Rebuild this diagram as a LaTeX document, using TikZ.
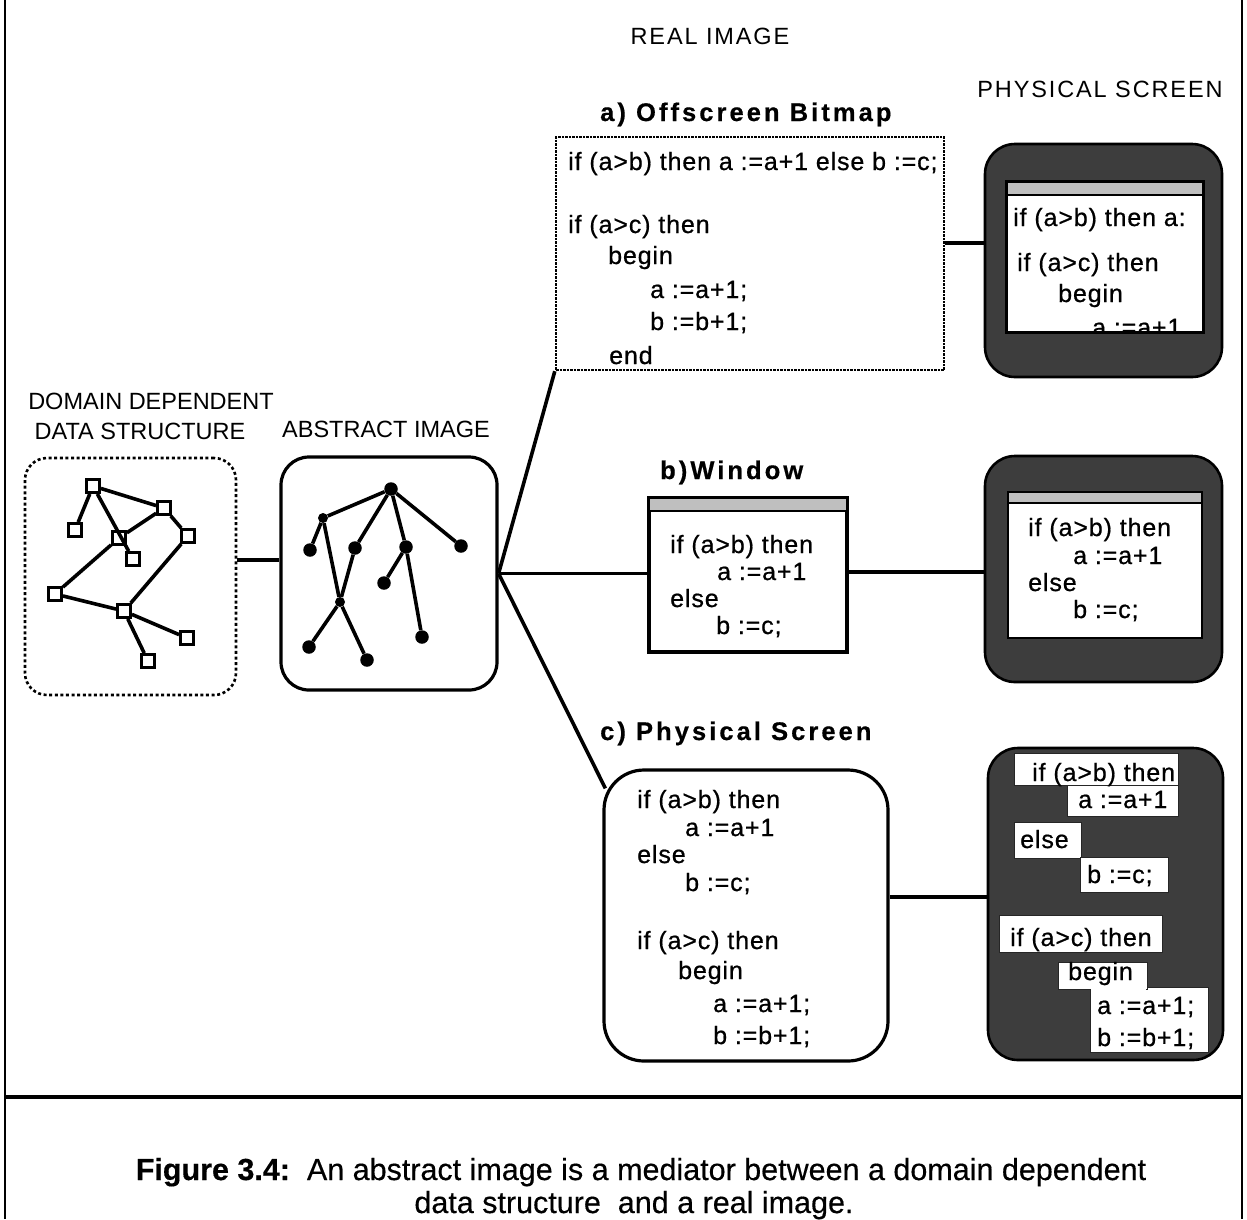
\documentclass[tikz,border=0pt]{standalone}
\usepackage{fontspec}
\setmainfont{Liberation Sans}
\newfontfamily\codef[LetterSpace=3.5,FakeBold=0.7]{Liberation Sans}
\newfontfamily\headf[LetterSpace=12,FakeBold=0.5]{Liberation Sans}
\newfontfamily\wlabf[LetterSpace=8]{Liberation Sans}
\newfontfamily\capf[FakeBold=0.4]{Liberation Sans}
\begin{document}
\begin{tikzpicture}[x=1pt,y=-1pt,
  code/.style={anchor=base west, inner sep=0, font=\codef\fontsize{25}{30}\selectfont},
  lbl/.style={anchor=base, inner sep=0, font=\fontsize{23.5}{28}\selectfont},
  wlbl/.style={anchor=base, inner sep=0, font=\wlabf\fontsize{23.5}{28}\selectfont},
  head/.style={anchor=base west, inner sep=0, font=\headf\bfseries\fontsize{25.5}{30}\selectfont},
  box/.style={draw, line width=3.2pt, inner sep=0, fill=white},
  screen/.style={draw, line width=2.6pt, fill=black!76, rounded corners=30pt, inner sep=0},
  innerwin/.style={draw, line width=2.2pt, fill=white, inner sep=0},
  titlebar/.style={draw, line width=1.8pt, fill=black!25, inner sep=0},
  wbox/.style={fill=white, draw=black!85, line width=0.8pt, inner sep=0},
  sq/.style={draw, line width=2.8pt, fill=white, minimum size=13pt, inner sep=0},
  dot/.style={circle, fill, minimum size=13.5pt, inner sep=0},
  edge/.style={line width=3.6pt},
  conn/.style={line width=3.6pt}]
\useasboundingbox (0,0) rectangle (1247,1219);
\fill[white] (0,0) rectangle (1247,1219);
% frame
\draw[line width=2pt] (5,0) -- (5,1219);
\draw[line width=2pt] (1242,0) -- (1242,1219);
\draw[line width=3.5pt] (5,1097) -- (1242,1097);

% titles
\node[wlbl] (treal) at (710,44) {REAL IMAGE};
\node[wlbl] (tphys) at (1100,97) {PHYSICAL SCREEN};
\node[lbl] (tdom1) at (151,409) {DOMAIN DEPENDENT};
\node[lbl] (tdom2) at (140,439) {DATA STRUCTURE};
\node[lbl] (tabs) at (386,437) {ABSTRACT IMAGE};
\node[head] (ha) at (600,121) {a)\ Offscreen\ Bitmap};
\node[head] (hb) at (660,479) {b)Window};
\node[head] (hc) at (600,740) {c)\ Physical\ Screen};

% domain dependent data structure
\node[draw, line width=2.6pt, dash pattern=on 3pt off 2.6pt, rounded corners=22pt,
      minimum width=211pt, minimum height=237pt, inner sep=0] (dom) at (130.5,576.5) {};
\node[sq] (n1) at (93,486) {};
\node[sq] (n2) at (164,508) {};
\node[sq] (n3) at (75,530) {};
\node[sq] (n4) at (119,538) {};
\node[sq] (n5) at (188,536) {};
\node[sq] (n6) at (133,559) {};
\node[sq] (n7) at (55,594) {};
\node[sq] (n8) at (124,611) {};
\node[sq] (n9) at (187,638) {};
\node[sq] (n10) at (148,661) {};
\draw[edge] (n1) -- (n2);
\draw[edge] (n1) -- (n3);
\draw[edge] (n1) -- (n6);
\draw[edge] (n2) -- (n5);
\draw[edge] (n2) -- (n4);
\draw[edge] (n4) -- (n7);
\draw[edge] (n7) -- (n8);
\draw[edge] (n5) -- (n8);
\draw[edge] (n8) -- (n9);
\draw[edge] (n8) -- (n10);

% abstract image
\node[box, rounded corners=28pt, minimum width=216pt, minimum height=233pt] (abs) at (389,573.5) {};
\node[dot] (r) at (391,489) {};
\node[dot, minimum size=10pt] (ta) at (323,518) {};
\node[dot] (ta1) at (310,550) {};
\node[dot] (tb) at (355,548) {};
\node[dot] (tc) at (406,547) {};
\node[dot] (td) at (461,546) {};
\node[dot] (te) at (384,583) {};
\node[dot, minimum size=10pt] (tf) at (340,602) {};
\node[dot] (tg) at (422,637) {};
\node[dot] (th) at (309,647) {};
\node[dot] (ti) at (367,660) {};
\draw[edge] (r) -- (ta);
\draw[edge] (ta) -- (ta1);
\draw[edge] (ta) -- (tf);
\draw[edge] (r) -- (tb);
\draw[edge] (tb) -- (tf);
\draw[edge] (r) -- (tc);
\draw[edge] (tc) -- (te);
\draw[edge] (tc) -- (tg);
\draw[edge] (r) -- (td);
\draw[edge] (tf) -- (th);
\draw[edge] (tf) -- (ti);

% a) offscreen bitmap
\node[draw, line width=2.4pt, dash pattern=on 2.5pt off 1pt, inner sep=0,
      minimum width=388pt, minimum height=233pt] (off) at (750,253.5) {};
\node[code] (o1) at (568,170) {if (a>b) then a :=a+1 else b :=c;};
\node[code] (o2) at (568,233) {if (a>c) then};
\node[code] (o3) at (608,264) {begin};
\node[code] (o4) at (650,298) {a :=a+1;};
\node[code] (o5) at (650,330) {b :=b+1;};
\node[code] (o6) at (609,364) {end};

% b) window
\node[box, minimum width=198pt, minimum height=154pt] (win) at (748,575) {};
\node[titlebar, minimum width=198pt, minimum height=13pt] (wint) at (748,504.5) {};
\node[code] (w1) at (670,553) {if (a>b) then};
\node[code] (w2) at (717,580) {a :=a+1};
\node[code] (w3) at (670,607) {else};
\node[code] (w4) at (716,634) {b :=c;};

% c) physical screen
\node[box, rounded corners=40pt, minimum width=284pt, minimum height=291pt] (phys) at (746,915.5) {};
\node[code] (p1) at (637,808) {if (a>b) then};
\node[code] (p2) at (685,836) {a :=a+1};
\node[code] (p3) at (637,863) {else};
\node[code] (p4) at (685,891) {b :=c;};
\node[code] (p5) at (637,949) {if (a>c) then};
\node[code] (p6) at (678,979) {begin};
\node[code] (p7) at (713,1012) {a :=a+1;};
\node[code] (p8) at (713,1044) {b :=b+1;};

% physical screen 1
\node[screen, minimum width=237pt, minimum height=233pt] (s1) at (1103.5,260.5) {};
\node[innerwin, minimum width=196pt, minimum height=150pt] (s1w) at (1105,257) {};
\node[titlebar, minimum width=196pt, minimum height=13pt] (s1t) at (1105,188.5) {};
\begin{scope}
  \clip (s1w.north west) rectangle (s1w.south east);
  \node[code] (q1) at (1013,226) {if (a>b) then a:};
  \node[code] (q2) at (1017,271) {if (a>c) then};
  \node[code] (q3) at (1058,302) {begin};
  \node[code] (q4) at (1092,336) {a :=a+1};
\end{scope}
\draw[line width=2.2pt] (s1w.north west) rectangle (s1w.south east);

% physical screen 2
\node[screen, minimum width=237pt, minimum height=226pt] (s2) at (1103.5,569) {};
\node[innerwin, minimum width=194pt, minimum height=146pt] (s2w) at (1105,565) {};
\node[titlebar, minimum width=194pt, minimum height=11pt] (s2t) at (1105,497.5) {};
\node[code] (u1) at (1028,536) {if (a>b) then};
\node[code] (u2) at (1073,564) {a :=a+1};
\node[code] (u3) at (1028,591) {else};
\node[code] (u4) at (1073,618) {b :=c;};

% physical screen 3
\node[screen, minimum width=235pt, minimum height=312pt] (s3) at (1105.5,904) {};
\node[wbox, minimum width=164pt, minimum height=32pt] (b1) at (1096,769) {};
\node[wbox, minimum width=111pt, minimum height=31pt] (b2) at (1122.5,800.5) {};
\node[wbox, minimum width=67pt, minimum height=36pt] (b3) at (1047.5,840) {};
\node[wbox, minimum width=88pt, minimum height=35pt] (b4) at (1124,874.5) {};
\node[wbox, minimum width=163pt, minimum height=37pt] (b5) at (1080.5,933.5) {};
\node[wbox, minimum width=118pt, minimum height=65pt] (b7) at (1149,1019.5) {};
\node[wbox, minimum width=89pt, minimum height=27pt] (b6) at (1102.5,975.5) {};
\fill[white] (1091,985) rectangle (1146,992);
\node[code] (v1) at (1032,781) {if (a>b) then};
\node[code] (v2) at (1078,808) {a :=a+1};
\node[code] (v3) at (1020,848) {else};
\node[code] (v4) at (1087,883) {b :=c;};
\node[code] (v5) at (1010,946) {if (a>c) then};
\node[code] (v6) at (1068,980) {begin};
\node[code] (v7) at (1097,1014) {a :=a+1;};
\node[code] (v8) at (1097,1046) {b :=b+1;};

% connectors
\draw[conn] ([yshift=16.5pt]dom.east) -- ([yshift=13.5pt]abs.west);
\draw[conn] (abs.east) -- (off.south west);
\draw[conn] (abs.east) -- (abs.east -| win.west);
\draw[conn] (abs.east) -- ([xshift=3pt,yshift=-20pt]phys.north west);
\draw[conn] ([yshift=10.5pt]off.east) -- ([yshift=17.5pt]s1.west);
\draw[conn] ([yshift=3pt]win.east) -- ([yshift=-3pt]s2.west);
\draw[conn] ([yshift=18.5pt]phys.east) -- ([yshift=7pt]s3.west);

% caption
\node[anchor=base, inner sep=0, font=\capf\fontsize{30.5}{34}\selectfont] (cap1) at (641,1180)
  {\textbf{Figure 3.4:}\ \ An abstract image is a mediator between a domain dependent};
\node[anchor=base, inner sep=0, font=\capf\fontsize{30.5}{34}\selectfont] (cap2) at (634,1213)
  {data structure\ \ and a real image.};
\end{tikzpicture}
\end{document}
